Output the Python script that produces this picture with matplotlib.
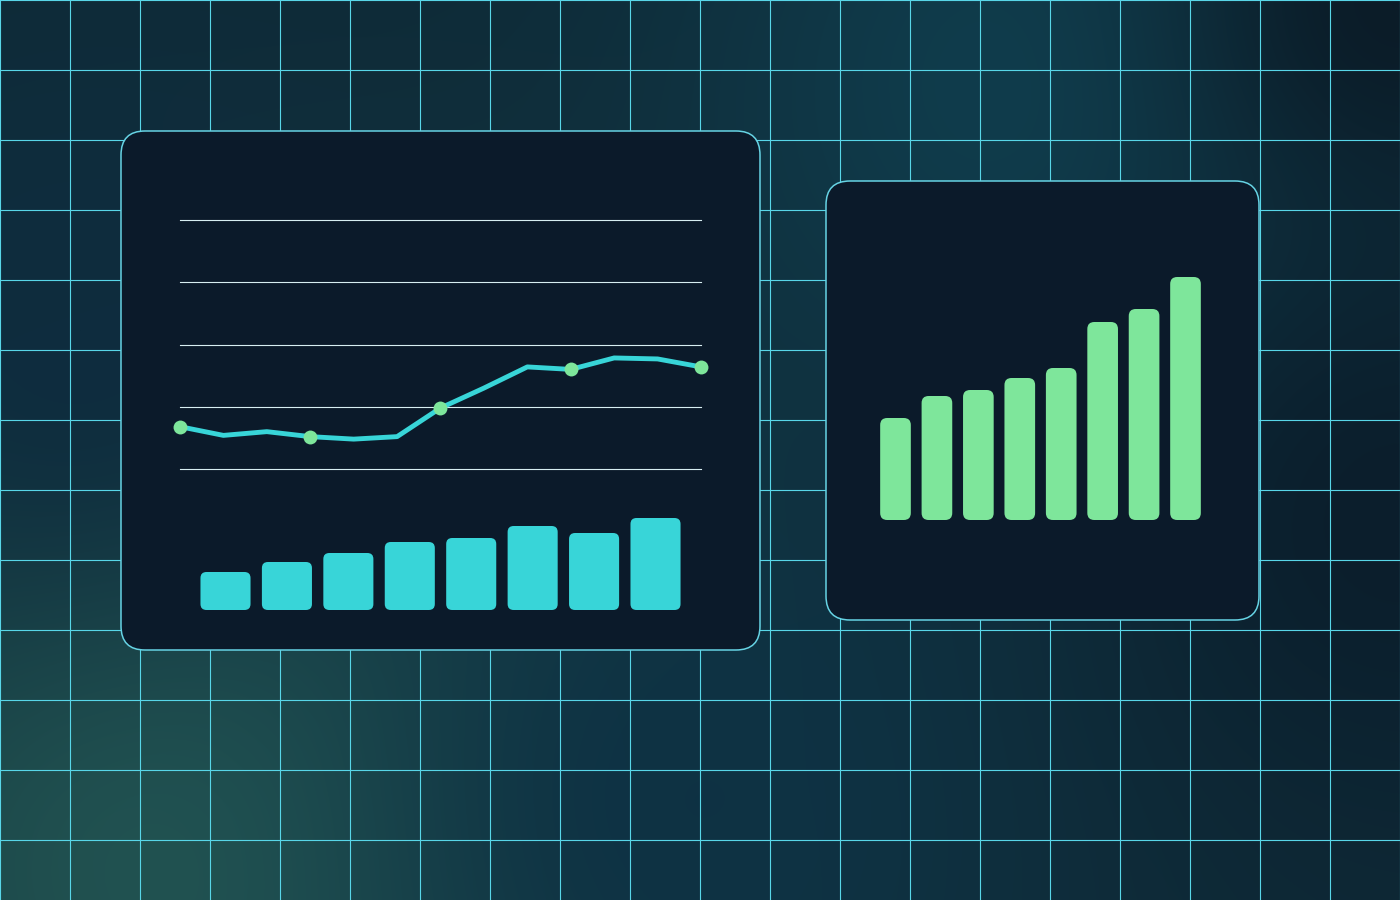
"""Dashboard-style illustration: grid background, two rounded panels with a line/bar chart and a bar chart."""
import matplotlib
matplotlib.use("Agg")
import matplotlib.pyplot as plt
import numpy as np
from matplotlib.patches import FancyBboxPatch

W, H = 1400, 900

# left panel: trend line (13 points, dots on every third) + bar row
line_vals = [17, 13.5, 15, 13, 12, 13, 24.5, 32.5, 41, 40, 44.6, 44.2, 41]
dot_idx = [0, 3, 6, 9, 12]
grid_vals = [0, 25, 50, 75, 100]
left_bars = [38, 48, 57, 68, 72, 84, 77, 92]
# right panel: growth bars
right_bars = [102, 124, 130, 142, 152, 198, 211, 243]

CYAN = "#38d5d8"
GREEN = "#7ee69b"
PANEL = "#0b1a2a"
EDGE = "#66d3e4"
GRID = "#58d6e8"


def px_axes(fig, x0, y0, x1, y1):
    """axes placed by pixel box (top-left origin)"""
    ax = fig.add_axes([x0 / W, 1 - y1 / H, (x1 - x0) / W, (y1 - y0) / H])
    ax.set_axis_off()
    ax.patch.set_alpha(0)
    return ax


def rounded_bars(ax, vals, width, color, r_px):
    # plain bars first, then swap each for a rounded box of the same size
    bars = ax.bar(np.arange(len(vals)) + 0.5, vals, width, color=color)
    bb = ax.get_window_extent()
    xr = ax.get_xlim(); yr = ax.get_ylim()
    ux = (xr[1] - xr[0]) / bb.width   # data per px
    uy = (yr[1] - yr[0]) / bb.height
    for b in bars:
        b.set_visible(False)
        p = FancyBboxPatch((b.get_x(), 0), b.get_width(), b.get_height(),
                           boxstyle=f"round,pad=0,rounding_size={r_px * ux}",
                           mutation_aspect=uy / ux, fc=color, ec="none", clip_on=False)
        ax.add_patch(p)


fig = plt.figure(figsize=(14, 9), dpi=100)
bg = fig.add_axes([0, 0, 1, 1])
bg.set_xlim(0, W); bg.set_ylim(H, 0); bg.set_axis_off()

# soft background glow
yy, xx = np.mgrid[0:H, 0:W]
img = np.zeros((H, W, 3)) + np.array([14, 41, 54]) / 255
blobs = [((230, 830), 330, (36, 88, 84)),
         ((1050, 90), 260, (16, 62, 78)),
         ((700, 800), 260, (14, 50, 68)),
         ((80, 330), 200, (14, 44, 62)),
         ((1400, 0), 160, (11, 28, 40)),
         ((1400, 520), 200, (11, 30, 44))]
for (cx, cy), s, col in blobs:
    w = np.exp(-((xx - cx) ** 2 + (yy - cy) ** 2) / (2 * s ** 2))[..., None]
    img = img * (1 - w) + np.array(col) / 255 * w
bg.imshow(img, extent=(0, W, H, 0), aspect="auto", zorder=0)

for x in range(0, W + 1, 70):
    bg.axvline(x, color=GRID, lw=0.8, zorder=1)
for y in range(0, H + 1, 70):
    bg.axhline(y, color=GRID, lw=0.8, zorder=1)

for x0, y0, x1, y1 in [(121, 131, 760, 650), (826, 181, 1259, 620)]:
    bg.add_patch(FancyBboxPatch((x0, y0), x1 - x0, y1 - y0,
                                boxstyle="round,pad=0,rounding_size=24",
                                fc=PANEL, ec=EDGE, lw=1.1, zorder=2))

# line chart
ax = px_axes(fig, 180, 220, 701, 469)
ax.set_xlim(0, len(line_vals) - 1); ax.set_ylim(0, 100)
for g in grid_vals:
    ax.axhline(g, color="#d8eef2", lw=0.8, clip_on=False)
xs = np.arange(len(line_vals))
ax.plot(xs, line_vals, color=CYAN, lw=3.5, solid_joinstyle="round", clip_on=False)
ax.plot(xs[dot_idx], np.array(line_vals)[dot_idx], "o", color=GREEN, ms=10, mec="none",
        clip_on=False)

# left bar row
n = len(left_bars); step = 61.43
x0 = 225.5 - step / 2
axb = px_axes(fig, x0, 510, x0 + n * step, 610)
axb.set_xlim(0, n); axb.set_ylim(0, 100)
rounded_bars(axb, left_bars, 0.815, CYAN, 6)

# right bars
n = len(right_bars); step = 41.43
x0 = 895.5 - step / 2
axr = px_axes(fig, x0, 270, x0 + n * step, 520)
axr.set_xlim(0, n); axr.set_ylim(0, 250)
rounded_bars(axr, right_bars, 0.74, GREEN, 7)

fig.savefig("out.png", dpi=100)
print("wrote out.png")
